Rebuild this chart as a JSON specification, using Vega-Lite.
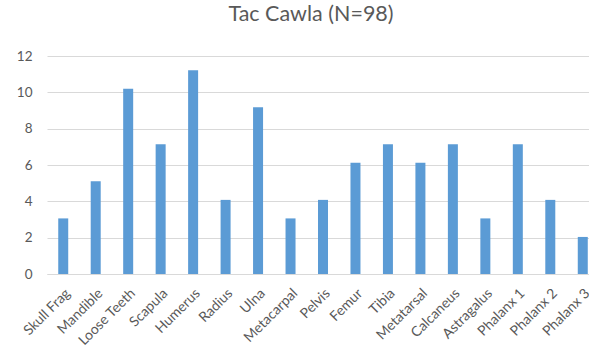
{
  "$schema": "https://vega.github.io/schema/vega-lite/v6.json",
  "autosize": "none",
  "width": 542,
  "height": 218,
  "padding": {"left": 47, "top": 56, "right": 0, "bottom": 74},
  "background": "white",
  "title": {
    "text": "Tac Cawla (N=98)",
    "font": "Lato",
    "fontSize": 21.5,
    "fontWeight": "normal",
    "color": "#595959",
    "anchor": "middle",
    "frame": "group",
    "offset": 24,
    "dx": -7
  },
  "data": {
    "values": [
      {"element": "Skull Frag", "pct": 3.06},
      {"element": "Mandible", "pct": 5.10},
      {"element": "Loose Teeth", "pct": 10.20},
      {"element": "Scapula", "pct": 7.14},
      {"element": "Humerus", "pct": 11.22},
      {"element": "Radius", "pct": 4.08},
      {"element": "Ulna", "pct": 9.18},
      {"element": "Metacarpal", "pct": 3.06},
      {"element": "Pelvis", "pct": 4.08},
      {"element": "Femur", "pct": 6.12},
      {"element": "Tibia", "pct": 7.14},
      {"element": "Metatarsal", "pct": 6.12},
      {"element": "Calcaneus", "pct": 7.14},
      {"element": "Astragalus", "pct": 3.06},
      {"element": "Phalanx 1", "pct": 7.14},
      {"element": "Phalanx 2", "pct": 4.08},
      {"element": "Phalanx 3", "pct": 2.04}
    ]
  },
  "mark": {"type": "bar", "color": "#5B9BD5", "size": 10},
  "encoding": {
    "x": {
      "field": "element",
      "type": "nominal",
      "sort": null,
      "title": null,
      "scale": {"range": [0, 552], "paddingInner": 0, "paddingOuter": 0},
      "axis": {
        "labelAngle": -45,
        "labelFont": "Lato",
        "labelFontSize": 14,
        "labelColor": "#595959",
        "labelPadding": 12,
        "labelOverlap": false,
        "ticks": false,
        "domainColor": "#D9D9D9",
        "domainWidth": 1,
        "grid": false
      }
    },
    "y": {
      "field": "pct",
      "type": "quantitative",
      "title": null,
      "scale": {"domain": [0, 12], "nice": false},
      "axis": {
        "values": [0, 2, 4, 6, 8, 10, 12],
        "labelFont": "Lato",
        "labelFontSize": 13.5,
        "labelColor": "#595959",
        "labelPadding": 15,
        "ticks": false,
        "domain": false,
        "gridColor": "#D9D9D9",
        "gridWidth": 1
      }
    }
  },
  "config": {"view": {"stroke": null}}
}
